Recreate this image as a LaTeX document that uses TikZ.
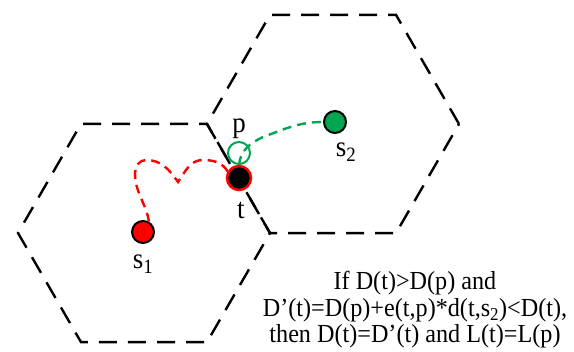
\documentclass[tikz,border=0pt]{standalone}
\usepackage{fontspec}
\setmainfont{Liberation Serif}
\usetikzlibrary{positioning}
\definecolor{sitegreen}{RGB}{0,166,81}

\begin{document}
\begin{tikzpicture}[x=1pt, y=1pt,
  hexedge/.style={draw=black, line width=2.4pt, dash pattern=on 18pt off 11pt},
  site/.style={circle, draw=black, line width=2pt, minimum size=22pt, inner sep=0pt},
  route/.style={line width=2.4pt, dash pattern=on 9pt off 6pt},
  tag/.style={font=\fontsize{29}{29}\selectfont, inner sep=1pt, xscale=0.93}
]
  \useasboundingbox (0,0) rectangle (574,352);

  % hexagonal cells
  \coordinate (cellA) at (144,119);
  \coordinate (cellB) at (333,228);
  \draw[hexedge] (cellA) ++(0:126) -- ++(120:126) -- ++(180:126) -- ++(240:126)
    -- ++(300:126) -- ++(0:126) -- cycle;
  \draw[hexedge] (cellB) ++(0:126) -- ++(120:126) -- ++(180:126) -- ++(240:126)
    -- ++(300:126) -- ++(0:126) -- cycle;

  % sites and nodes
  \node[site, fill=red, label={[tag, label distance=10pt]below:s\textsubscript{1}}] (s1) at (143,120) {};
  \node[site, fill=sitegreen, label={[tag, label distance=8pt, xshift=12pt]below:s\textsubscript{2}}] (s2) at (335,230) {};
  \node[circle, draw=sitegreen, line width=2pt, minimum size=22pt, inner sep=0pt,
    label={[tag, label distance=1pt]above:p}] (p) at (239,199) {};

  \draw[route, red] (s1.60) to[out=100,in=-90] (135,179) to[out=90,in=180] (146,192)
    to[out=0,in=125] (178,170) to[out=55,in=180] (203,192) to[out=0,in=120] (228,180);
  \draw[route, sitegreen] (p.south) to[out=85,in=205] (263,215) to[out=20,in=180] (s2.west);

  \node[circle, draw=red, fill=black, line width=2.5pt, minimum size=24pt, inner sep=0pt,
    label={[tag, label distance=10pt, xshift=2pt]below:t}] (t) at (239,174) {};

  % update rule
  \node[tag, align=center, font=\fontsize{26}{26.5}\selectfont] (rule) at (415,42)
    {If D(t)>D(p) and\\D’(t)=D(p)+e(t,p)*d(t,s\textsubscript{2})<D(t),\\then D(t)=D’(t) and L(t)=L(p)};
\end{tikzpicture}
\end{document}
